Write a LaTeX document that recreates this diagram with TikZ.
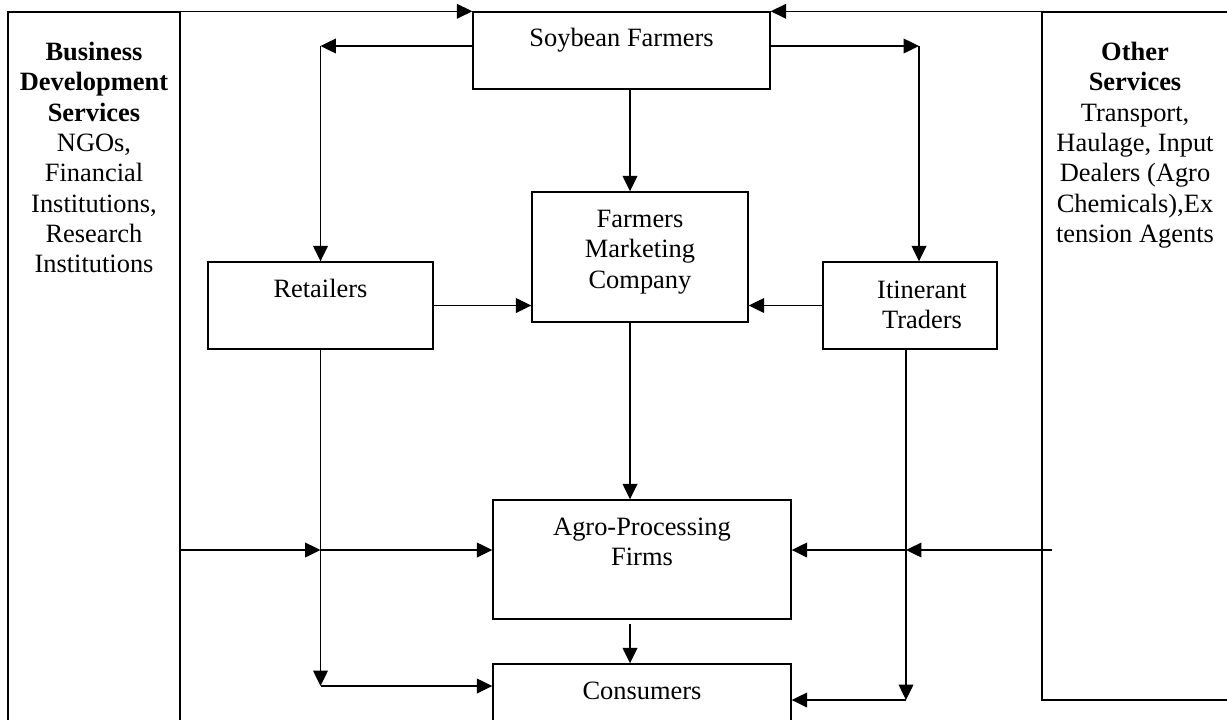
\documentclass[tikz,border=0pt]{standalone}
\usepackage{fontspec}
\setmainfont{Liberation Serif}
\usetikzlibrary{arrows.meta}

\begin{document}
\begin{tikzpicture}[x=0.025cm, y=-0.025cm,
	font=\fontsize{18.8}{21.6}\selectfont,
	line width=1pt,
	box/.style 2 args={rectangle, draw, inner sep=0pt, minimum width=#1*0.025cm, minimum height=#2*0.025cm},
	lbl/.style={anchor=north, align=center, inner sep=0pt, yshift=-#1*0.025cm},
	arr/.style={-{Triangle[length=11pt, width=10.5pt]}}]
\clip (0,0) rectangle (1227,719);
% side boxes
\node [box={172}{748}, label={[lbl=30]north:{\textbf{Business}\\\textbf{Development}\\\textbf{Services}\\NGOs,\\Financial\\Institutions,\\Research\\Institutions}}] (bds) at (94,386) {};
\node [box={218}{688}, label={[lbl=30, xshift=-16*0.025cm]north:{\textbf{Other}\\\textbf{Services}\\Transport,\\Haulage, Input\\Dealers (Agro\\Chemicals),Ex\\tension Agents}}] (oth) at (1151,356) {};
% chain actors
\node [box={297}{77}, label={[lbl=16]north:Soybean Farmers}] (sf) at (621.5,50.5) {};
\node [box={225}{87}, label={[lbl=17]north:Retailers}] (ret) at (320.5,305.5) {};
\node [box={216}{130}, label={[lbl=18]north:{Farmers\\Marketing\\Company}}] (fmc) at (640,257) {};
\node [box={174}{87}, label={[lbl=19, xshift=12*0.025cm]north:{Itinerant\\Traders}}] (itr) at (910,305.5) {};
\node [box={298}{119}, label={[lbl=18]north:{Agro-Processing\\Firms}}] (apf) at (642,559.5) {};
\node [box={298}{96}, label={[lbl=18]north:Consumers}] (con) at (642,712) {};

\coordinate (spine) at (630,0);
\coordinate (cl) at (320.5,46);
\coordinate (cr) at (919,46);
\coordinate (lj) at (320.5,550);
\coordinate (rj) at (906,550);
\coordinate (rs) at (1052,550);
\coordinate (lc) at (320.5,686);
\coordinate (rc) at (906,700);

% services to farmers
\draw [arr] (bds.north east) -- (sf.north west);
\draw [arr] (oth.north west) -- (sf.north east);
% farmers outwards
\draw [arr] (sf.west |- cl) -- (cl);
\draw [arr] (cl) -- (ret.north);
\draw [arr] (sf.east |- cr) -- (cr);
\draw [arr] (cr) -- (cr |- itr.north);
\draw [arr] (sf.south -| spine) -- (fmc.north -| spine);
% into the marketing company
\draw [arr] (ret.east) -- (ret.east -| fmc.west);
\draw [arr] (itr.west) -- (itr.west -| fmc.east);
\draw [arr] (fmc.south -| spine) -- (apf.north -| spine);
\draw [arr] (spine |- 0,624) -- (con.north -| spine);
% services to processors
\draw [arr] (lj -| bds.east) -- (lj);
\draw [arr] (lj) -- (lj -| apf.west);
\draw [arr] (rs) -- (rj);
\draw [arr] (rj) -- (rj -| apf.east);
% down to consumers
\draw [arr] (ret.south) -- (lc);
\draw [arr] (lc) -- (lc -| con.west);
\draw [arr] (itr.south -| rc) -- (rc);
\draw [arr] (rc) -- (rc -| con.east);
\end{tikzpicture}
\end{document}
